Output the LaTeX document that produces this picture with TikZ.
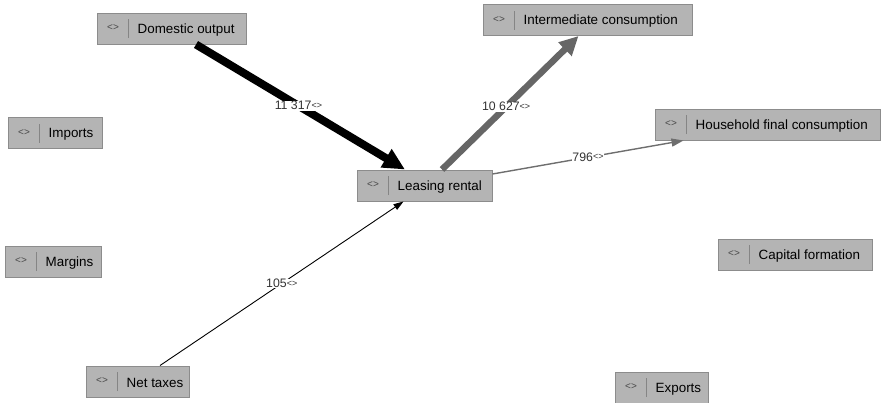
\documentclass[tikz,border=0pt]{standalone}
\usepackage{fontspec}
\setmainfont{Liberation Sans}
\usetikzlibrary{arrows.meta,calc}
\definecolor{boxfill}{HTML}{B4B4B4}
\definecolor{boxline}{HTML}{8C8C8C}
\definecolor{sepline}{HTML}{858585}
\definecolor{icongray}{HTML}{4A4A4A}
\definecolor{flowgray}{HTML}{666666}
\definecolor{thingray}{HTML}{6E6E6E}
\definecolor{labgray}{HTML}{333333}
\tikzset{
  box/.style={draw=boxline, fill=boxfill, line width=1pt, minimum height=31pt, inner sep=0pt,
    path picture={\draw[sepline,line width=0.9pt]
      ([xshift=31pt,yshift=6pt]path picture bounding box.south west) --
      ([xshift=31pt,yshift=-6pt]path picture bounding box.north west);}},
  boxtext/.style={anchor=west, inner sep=0pt, font=\fontsize{13.4pt}{15pt}\selectfont, text=black},
  icon/.style={inner sep=0pt, font=\fontsize{10pt}{11pt}\selectfont, text=icongray},
  elab/.style={fill=white, inner sep=0.6pt, font=\fontsize{12.3pt}{13pt}\selectfont, text=labgray},
  heavy/.style={line width=8pt, draw=black, -{Triangle[length=22pt,width=20pt]}},
  greyflow/.style={line width=6.5pt, draw=flowgray, -{Triangle[length=19pt,width=18pt]}},
  thinflow/.style={line width=1.4pt, draw=thingray, -{Triangle[length=12pt,width=8pt]}},
  hairflow/.style={line width=0.9pt, draw=black, -{Triangle[length=10pt,width=6.5pt]}},
}
\newcommand{\mkbox}[5]{%
  \node[box, minimum width=#4pt] (#1) at (#2,#3) {};
  \node[icon] (#1-i) at ([xshift=16.5pt,yshift=0.5pt]#1.west) {<>};
  \node[boxtext] (#1-t) at ([xshift=41pt,yshift=-1.5pt]#1.west) {#5};
}
\newcommand{\sm}{{\fontsize{9pt}{9pt}\selectfont\raisebox{1.5pt}{<>}}}
\begin{document}
\begin{tikzpicture}[x=1pt,y=-1pt]
\useasboundingbox (0,0) rectangle (882,402);
\mkbox{dom}{171.5}{28.5}{149}{Domestic output}
\mkbox{inter}{587.5}{20}{209}{Intermediate consumption}
\mkbox{imp}{55}{133}{94}{Imports}
\mkbox{hh}{767.5}{124.5}{225}{Household final consumption}
\mkbox{lease}{424.5}{185.5}{135}{Leasing rental}
\mkbox{marg}{53}{261.5}{96}{Margins}
\mkbox{cap}{795}{254.5}{154}{Capital formation}
\mkbox{net}{137.5}{381.5}{103}{Net taxes}
\mkbox{exp}{661.5}{387.5}{93}{Exports}

\draw[heavy] ([xshift=24.5pt]dom.south) -- node[elab, pos=0.49] (l1) {11 317\sm} ([xshift=-19.5pt]lease.north);
\draw[greyflow] ([xshift=17.5pt]lease.north) -- node[elab, pos=0.47] (l2) {10 627\sm} ([xshift=-9pt]inter.south);
\draw[thinflow] ([yshift=11.5pt]lease.east) -- node[elab, pos=0.5] (l3) {796\sm} ([xshift=-84pt]hh.south);
\draw[hairflow] ([xshift=22.5pt]net.north) -- node[elab, pos=0.5] (l4) {105\sm} ([xshift=-21pt]lease.south);
\end{tikzpicture}
\end{document}
